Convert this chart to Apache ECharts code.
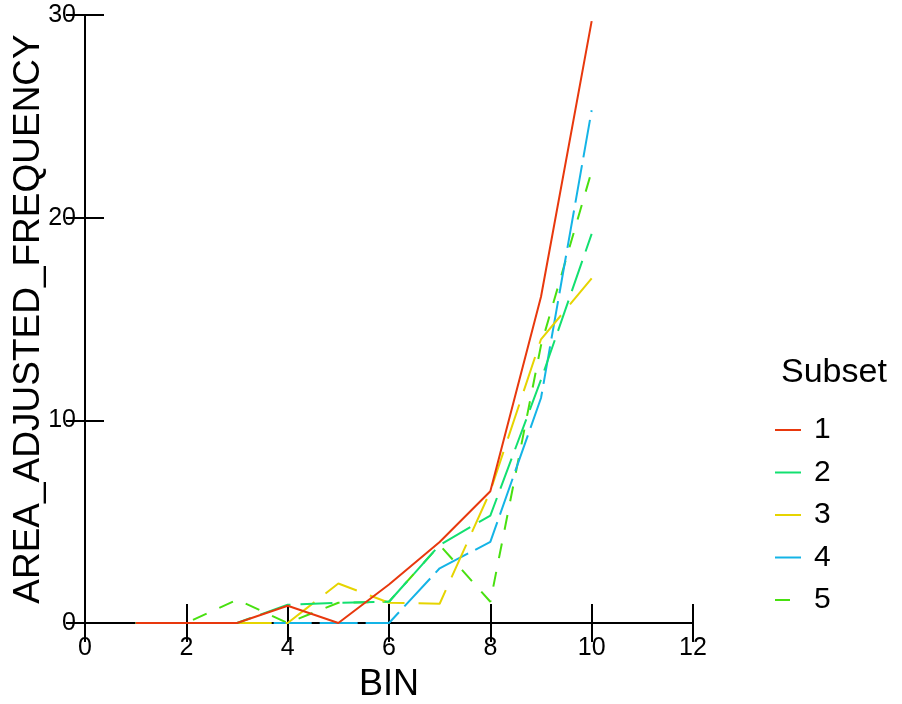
<!DOCTYPE html>
<html>
<head>
<meta charset="utf-8">
<script src="https://cdn.jsdelivr.net/npm/echarts@6/dist/echarts.min.js"></script>
<style>
html,body{margin:0;padding:0;background:#fff;}
#chart{width:902px;height:704px;}
</style>
</head>
<body>
<div id="chart"></div>
<script>
var bins = [1, 2, 3, 4, 5, 6, 7, 8, 9, 10];
var subsetNames = ['1', '2', '3', '4', '5'];
var subset1 = [0, 0, 0, 0.85, 0, 1.9, 4.0, 6.5, 16.1, 29.7];
var subset2 = [0, 0, 0, 0.9, 1.0, 1.05, 3.85, 5.3, 12.0, 19.2];
var subset3 = [0, 0, 0, 0, 1.95, 1.0, 0.95, 6.5, 14.0, 17.0];
var subset4 = [0, 0, 0, 0, 0, 0, 2.7, 4.0, 11.1, 25.3];
var subset5 = [0, 0, 1.15, 0, 1.0, 1.05, 3.85, 1.05, 13.7, 22.3];
var xTicks = [0, 2, 4, 6, 8, 10, 12];
var yTicks = [0, 10, 20, 30];

var allValues = [subset1, subset2, subset3, subset4, subset5];
var colors = ['#e8380d', '#12e070', '#e6d400', '#14b4e6', '#48e010'];
var dashes = ['solid', [32, 10], [36, 14], [38, 8], [15, 14]];

function pairs(vals) {
  return bins.map(function (b, i) { return [b, vals[i]]; });
}

var font = 'Liberation Sans, Arial, sans-serif';
var chart = echarts.init(document.getElementById('chart'));

var series = subsetNames.map(function (n, k) {
  return {
    name: n,
    type: 'line',
    data: pairs(allValues[k]),
    showSymbol: false,
    symbol: 'none',
    lineStyle: { color: colors[k], width: 2, type: dashes[k] },
    itemStyle: { color: colors[k] },
    z: 10 - k
  };
});

var axisLineStyle = { lineStyle: { color: '#000', width: 2 } };

chart.setOption({
  animation: false,
  backgroundColor: '#fff',
  grid: { left: 85, right: 209, top: 15, bottom: 81, containLabel: false, outerBoundsMode: 'none' },
  xAxis: [{
    type: 'value', min: xTicks[0], max: xTicks[xTicks.length - 1], interval: 2,
    axisLine: axisLineStyle,
    axisTick: { inside: true, length: 19, lineStyle: { color: '#000', width: 2 } },
    axisLabel: { color: '#000', fontSize: 25, fontFamily: font, margin: 13 },
    splitLine: { show: false },
    name: 'BIN', nameLocation: 'middle', nameGap: 44, nameMoveOverlap: false,
    nameTextStyle: { color: '#000', fontSize: 36, fontFamily: font }
  }, {
    type: 'value', position: 'top', min: xTicks[0], max: xTicks[xTicks.length - 1], interval: 2,
    axisLine: axisLineStyle,
    axisTick: { inside: true, length: 19, lineStyle: { color: '#000', width: 2 } },
    axisLabel: { show: false }, splitLine: { show: false }
  }],
  yAxis: [{
    type: 'value', min: yTicks[0], max: yTicks[yTicks.length - 1], interval: 10,
    axisLine: axisLineStyle,
    axisTick: { inside: true, length: 19, lineStyle: { color: '#000', width: 2 } },
    axisLabel: { color: '#000', fontSize: 25, fontFamily: font, margin: 9 },
    splitLine: { show: false },
    name: 'AREA_ADJUSTED_FREQUENCY', nameLocation: 'middle', nameGap: 38, nameMoveOverlap: false,
    nameTextStyle: { color: '#000', fontSize: 37, fontFamily: font }
  }, {
    type: 'value', position: 'right', min: yTicks[0], max: yTicks[yTicks.length - 1], interval: 10,
    axisLine: axisLineStyle,
    axisTick: { inside: true, length: 19, lineStyle: { color: '#000', width: 2 } },
    axisLabel: { show: false }, splitLine: { show: false }
  }],
  legend: {
    orient: 'vertical', left: 769, top: 410,
    itemWidth: 26, itemHeight: 14, itemGap: 12.5,
    data: subsetNames,
    itemStyle: { opacity: 0 },
    textStyle: { color: '#000', fontSize: 30, fontFamily: font, lineHeight: 30, padding: [0, 0, 0, 8] }
  },
  graphic: [{
    type: 'text', left: 781, top: 356,
    style: { text: 'Subset', fill: '#000', font: '34px ' + font }
  }],
  series: series
});
</script>
</body>
</html>
